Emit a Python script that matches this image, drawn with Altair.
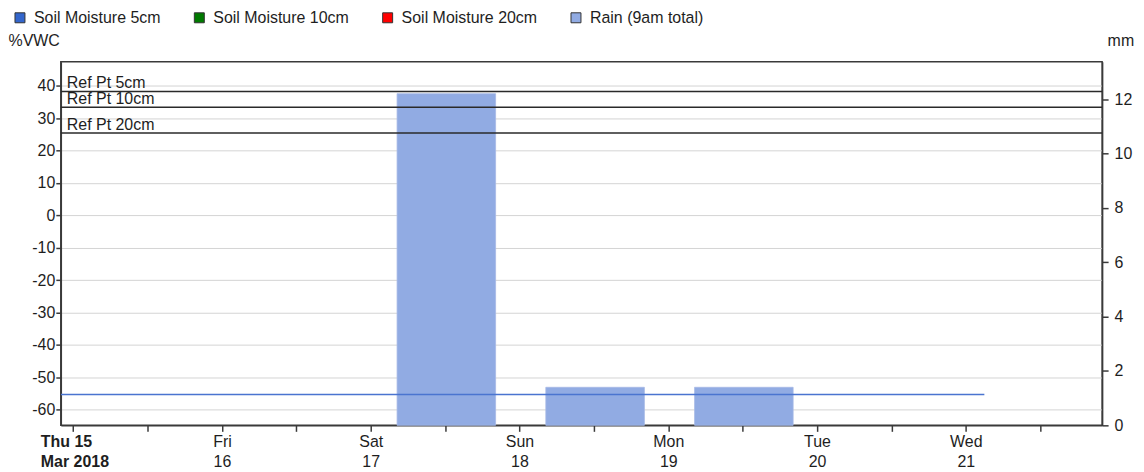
import altair as alt
import pandas as pd

# ---- data ----
legend_labels = ["Soil Moisture 5cm", "Soil Moisture 10cm", "Soil Moisture 20cm", "Rain (9am total)"]
legend_colors = ["#3366cc", "#007a00", "#ff0000", "#91abe3"]

rain_days = ["2018-03-17T00:00:00", "2018-03-18T00:00:00", "2018-03-19T00:00:00"]
rain_mm = [12.2, 1.4, 1.4]

moisture_times = [
    "2018-03-14T22:00:00", "2018-03-15T12:00:00", "2018-03-16T00:00:00",
    "2018-03-16T12:00:00", "2018-03-17T00:00:00", "2018-03-17T12:00:00",
    "2018-03-18T00:00:00", "2018-03-18T12:00:00", "2018-03-19T00:00:00",
    "2018-03-19T12:00:00", "2018-03-20T00:00:00", "2018-03-20T12:00:00",
    "2018-03-21T00:00:00", "2018-03-21T03:00:00",
]
moisture_5cm = [-55.3, -55.3, -55.3, -55.3, -55.3, -55.3, -55.3,
                -55.3, -55.3, -55.3, -55.3, -55.3, -55.3, -55.3]

ref_labels = ["Ref Pt 5cm", "Ref Pt 10cm", "Ref Pt 20cm"]
ref_values = [38.2, 33.3, 25.4]

left_ticks = [-60, -50, -40, -30, -20, -10, 0, 10, 20, 30, 40]
right_ticks = [0, 2, 4, 6, 8, 10, 12]
tick_days = [15, 16, 17, 18, 19, 20, 21]

FONT = "Liberation Sans"
FS = 16
AXIS_COL = "#3a3a3a"
TXT_COL = "#1e1e1e"

rain_df = pd.DataFrame({"day": rain_days, "mm": rain_mm, "series": legend_labels[3]})
moist_df = pd.DataFrame({"time": moisture_times, "vwc": moisture_5cm, "series": legend_labels[0]})
ref_df = pd.DataFrame({"label": ref_labels, "vwc": ref_values})

x_domain = [alt.DateTime(year=2018, month=3, date=14, hours=22),
            alt.DateTime(year=2018, month=3, date=21, hours=22)]
x_ticks = [alt.DateTime(year=2018, month=3, date=d, hours=h) for d in tick_days for h in (0, 12)]
x_scale = alt.Scale(domain=x_domain)

first_test = "date(datum.value) == 15 && hours(datum.value) == 0"
x_axis = alt.Axis(
    values=x_ticks,
    title=None,
    grid=False,
    labelExpr=("hours(datum.value) == 12 ? '' : (date(datum.value) == 15 ? "
               "[timeFormat(datum.value, '%a %d'), timeFormat(datum.value, '%b %Y')] : "
               "[timeFormat(datum.value, '%a'), timeFormat(datum.value, '%d')])"),
    labelFontWeight={"condition": {"test": first_test, "value": "bold"}, "value": "normal"},
    labelAlign={"condition": {"test": first_test, "value": "left"}, "value": "center"},
    labelOffset={"condition": {"test": first_test, "value": -33}, "value": 0},
    labelFlush=False,
    labelOverlap=False,
    labelBound=False,
    labelLineHeight=20,
    labelPadding=2,
    labelFontSize=FS,
    tickSize=6,
    tickWidth=1.5,
    tickColor=AXIS_COL,
    domainColor=AXIS_COL,
    domainWidth=1.5,
)

left_scale = alt.Scale(domain=[-64.8, 47.4], nice=False, zero=False)
left_axis = alt.Axis(
    orient="left",
    values=left_ticks,
    labelExpr="toString(datum.value)",
    grid=True,
    gridColor="#d4d4d4",
    gridWidth=1,
    title="%VWC",
    titleAngle=0,
    titleX=-53,
    titleY=-16,
    titleAlign="left",
    titleBaseline="alphabetic",
    titleFontWeight="normal",
    titleFontSize=FS,
    titleColor=TXT_COL,
    labelFontSize=FS,
    labelPadding=1,
    tickSize=5,
    tickWidth=1.5,
    tickColor=AXIS_COL,
    domainColor=AXIS_COL,
    domainWidth=1.5,
)

right_scale = alt.Scale(domain=[0, 13.38], nice=False, zero=False)
right_axis = alt.Axis(
    orient="right",
    values=right_ticks,
    grid=False,
    title="mm",
    titleAngle=0,
    titleX=5,
    titleY=-16,
    titleAlign="left",
    titleBaseline="alphabetic",
    titleFontWeight="normal",
    titleFontSize=FS,
    titleColor=TXT_COL,
    labelFontSize=FS,
    labelPadding=6,
    tickSize=6,
    tickWidth=1.5,
    tickColor=AXIS_COL,
    domainColor=AXIS_COL,
    domainWidth=1.5,
)

bars = (
    alt.Chart(rain_df)
    .transform_calculate(
        start="toDate(datum.day) + 4.25 * 3600 * 1000",
        end="toDate(datum.day) + 20.15 * 3600 * 1000",
    )
    .mark_bar(opacity=1, stroke="#a7b9e6", strokeWidth=0.8)
    .encode(
        x=alt.X("start:T", scale=x_scale, axis=x_axis),
        x2="end:T",
        y=alt.Y("mm:Q", scale=right_scale, axis=right_axis),
        y2=alt.datum(0),
        color=alt.Color(
            "series:N",
            scale=alt.Scale(domain=legend_labels, range=legend_colors),
            legend=alt.Legend(
                title=None,
                orient="none",
                legendX=-49,
                legendY=-52,
                direction="horizontal",
                symbolType="square",
                symbolSize=100,
                symbolStrokeColor="#333333",
                symbolStrokeWidth=1,
                symbolOpacity=1,
                labelFontSize=FS,
                labelColor=TXT_COL,
                labelOffset=6,
                columnPadding=30,
                padding=0,
            ),
        ),
    )
)

rules = (
    alt.Chart(ref_df)
    .mark_rule(color="#2a2a2a", strokeWidth=1.5)
    .encode(y=alt.Y("vwc:Q", scale=left_scale, axis=left_axis))
)

ref_text = (
    alt.Chart(ref_df)
    .mark_text(align="left", baseline="alphabetic", dy=-3, fontSize=FS, color=TXT_COL)
    .encode(
        x=alt.value(6),
        y=alt.Y("vwc:Q", scale=left_scale, axis=left_axis),
        text="label:N",
    )
)

line = (
    alt.Chart(moist_df)
    .mark_line(color="#4a74d0", strokeWidth=1.5, clip=True)
    .encode(
        x=alt.X("time:T", scale=x_scale, axis=x_axis),
        y=alt.Y("vwc:Q", scale=left_scale, axis=left_axis),
    )
)

left_group = alt.layer(rules, ref_text, line)

chart = (
    alt.layer(bars, left_group)
    .resolve_scale(y="independent")
    .properties(
        width=1045,
        height=365,
        padding={"left": 53, "top": 53, "right": 34, "bottom": 46},
        autosize=alt.AutoSizeParams(type="none"),
    )
    .configure(font=FONT)
    .configure_view(stroke=AXIS_COL, strokeWidth=1.5)
    .configure_axis(labelColor=TXT_COL, labelFont=FONT, titleFont=FONT)
    .configure_legend(labelFont=FONT)
)

chart.save("out.html", embed_options={"renderer": "svg", "actions": False})
